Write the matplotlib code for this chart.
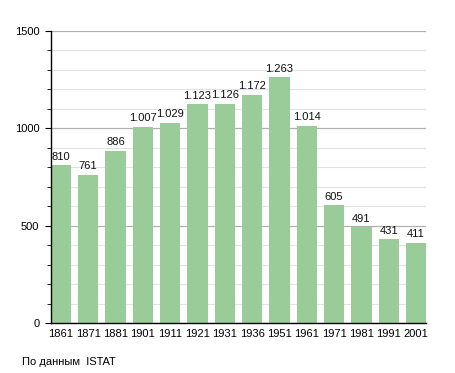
import matplotlib
matplotlib.use('Agg')
import matplotlib.pyplot as plt
from matplotlib.ticker import MultipleLocator

# Population by census year
years = ['1861', '1871', '1881', '1901', '1911', '1921', '1931', '1936',
         '1951', '1961', '1971', '1981', '1991', '2001']
population = [810, 761, 886, 1007, 1029, 1123, 1126, 1172, 1263, 1014,
              605, 491, 431, 411]

plt.rcParams['font.family'] = ['Liberation Sans', 'DejaVu Sans']

fig = plt.figure(figsize=(4.55, 3.73), dpi=100)
ax = fig.add_axes([0.111, 0.134, 0.826, 0.783])

x = range(len(years))
bar_w = 0.75
ax.bar(x, population, width=bar_w, color='#99cc99', zorder=3)

# Value labels with dot as thousands separator
for i, v in enumerate(population):
    ax.text(i, v + 18, f'{v:,}'.replace(',', '.'), ha='center', va='bottom',
            fontsize=8, color='#111111', zorder=4)

ax.set_xlim(-bar_w / 2, len(years) - 1 + bar_w / 2)
ax.set_ylim(0, 1500)
ax.set_xticks(list(x))
ax.set_xticklabels(years)
ax.yaxis.set_major_locator(MultipleLocator(500))
ax.yaxis.set_minor_locator(MultipleLocator(100))

# Grid lines: darker at 500s, lighter at 100s
ax.grid(axis='y', which='major', color='#b0b0b0', linewidth=0.9, zorder=1)
ax.grid(axis='y', which='minor', color='#e2e2e2', linewidth=0.8, zorder=1)

for side in ['top', 'right']:
    ax.spines[side].set_visible(False)
ax.spines['left'].set_linewidth(1.0)
ax.spines['bottom'].set_linewidth(1.0)
ax.spines['left'].set_zorder(5)
ax.spines['bottom'].set_zorder(5)

ax.tick_params(axis='x', length=0, labelsize=8, pad=4)
ax.tick_params(axis='y', which='major', length=4, labelsize=8, pad=4)
ax.tick_params(axis='y', which='minor', length=3)

fig.text(0.048, 0.03, 'По данным  ISTAT', fontsize=8, ha='left', va='center')

fig.savefig('out.png', dpi=100)
